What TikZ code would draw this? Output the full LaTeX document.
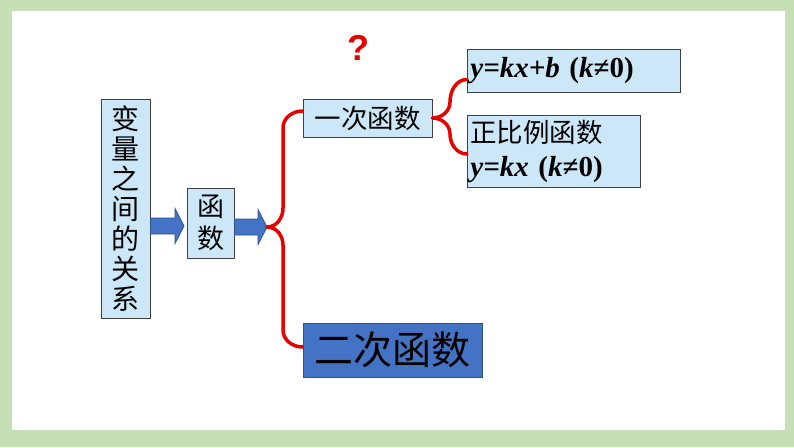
\documentclass[tikz,border=0pt]{standalone}
\usepackage{fontspec}
\setmainfont{Liberation Serif}
\newfontfamily\cjk{Noto Sans CJK SC}
\newfontfamily\qfont{Liberation Sans}
\usetikzlibrary{calc}

\definecolor{framegreen}{HTML}{C5E0B4}
\definecolor{boxblue}{HTML}{CCE8F8}
\definecolor{deepblue}{HTML}{4472C4}
\definecolor{arrowedge}{HTML}{2F528F}
\definecolor{bracered}{HTML}{E60000}

\tikzset{
  box/.style={draw=black!75, line width=0.8pt, fill=boxblue, inner sep=0pt},
  brace/.style={draw=bracered, line width=3.5pt, line cap=round},
  blockarrow/.style={fill=deepblue, draw=arrowedge, line width=0.8pt}
}

% block arrow from the x of #1 to the tip #2
\newcommand{\blockarr}[2]{%
  \path[blockarrow] let \p1=(#1), \p2=(#2) in
    ({\x1},{\y2+8pt}) -- ({\x2-9pt},{\y2+8pt}) -- ({\x2-9pt},{\y2+17.5pt})
    -- (\x2,\y2) -- ({\x2-9pt},{\y2-17.5pt}) -- ({\x2-9pt},{\y2-8pt})
    -- ({\x1},{\y2-8pt}) -- cycle;}

\begin{document}
\begin{tikzpicture}[x=1pt,y=-1pt]
    % frame
    \fill[framegreen] (0,0) rectangle (794,447);
    \fill[white] (12,11) rectangle (785,430);
    \useasboundingbox (0,0) rectangle (794,447);

    % boxes
    \node[box, minimum width=49pt, minimum height=219pt, align=center,
      font=\cjk\fontsize{28}{30}\selectfont] (vars) at (125.5,208.5)
      {变\\量\\之\\间\\的\\关\\系};
    \node[box, minimum width=47pt, minimum height=70pt, align=center,
      font=\cjk\fontsize{27}{32}\selectfont] (func) at (210.5,223) {函\\数};
    \node[box, minimum width=129pt, minimum height=38pt,
      font=\cjk\fontsize{26.5}{30}\selectfont] (lin) at (367.5,118) {一次函数};
    \node[box, fill=deepblue, draw=arrowedge, minimum width=179pt, minimum height=54pt,
      font=\cjk\fontsize{39}{40}\selectfont] (quad) at (392.5,350) {二次函数};
    \node[box, anchor=west, minimum width=213pt, minimum height=43pt,
      text width=207pt, inner xsep=3pt, align=left,
      font=\bfseries\fontsize{29}{30}\selectfont] (gen) at (467,70.5)
      {{\itshape y=kx+b} ({\itshape k}≠0)};
    \node[box, anchor=west, minimum width=173pt, minimum height=72pt,
      text width=167pt, inner xsep=3pt, align=left,
      font=\fontsize{29}{34}\selectfont] (prop) at (467,151)
      {{\cjk\fontsize{26.5}{34}\selectfont 正比例函数}\\
       {\bfseries{\itshape y=kx} ({\itshape k}≠0)}};

    % question mark
    \node[text=bracered, font=\qfont\bfseries\fontsize{36}{36}\selectfont] (ask) at (358,48) {?};

    % arrows
    \coordinate (tip) at (184,226);
    \coordinate (jn) at (267,227);
    \blockarr{vars.east}{tip}
    \blockarr{func.east}{jn}

    % braces
    \draw[brace] (jn) to[out=0,in=-90] (283,208) -- (283,128)
      to[out=90,in=180] ([yshift=7pt]lin.west);
    \draw[brace] (jn) to[out=0,in=90] (283,245) -- (283,330)
      to[out=-90,in=180] ([yshift=3pt]quad.west);
    \draw[brace] (lin.east) to[out=0,in=-90] (450,102)
      to[out=90,in=180] ([yshift=-9pt]gen.west);
    \draw[brace] (lin.east) to[out=0,in=90] (450,134)
      to[out=-90,in=180] ([yshift=-3pt]prop.west);

\end{tikzpicture}
\end{document}
